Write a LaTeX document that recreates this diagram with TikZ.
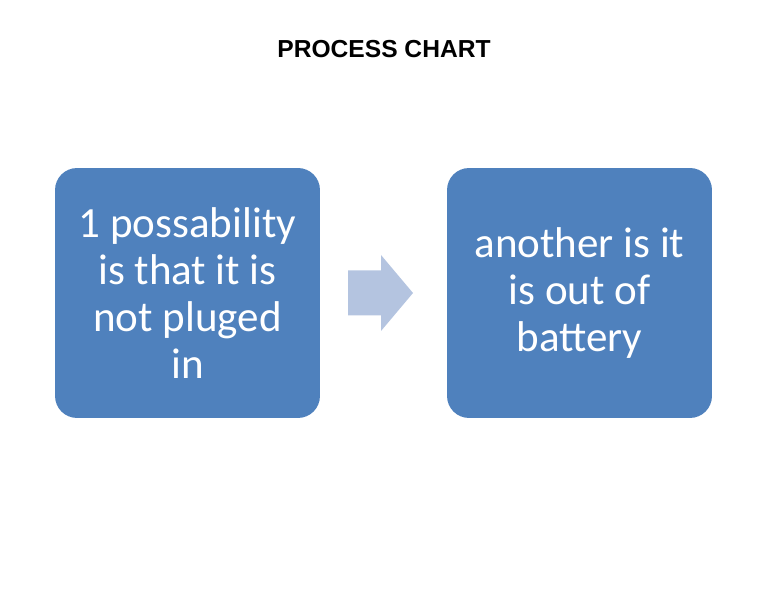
\documentclass[tikz,border=0pt]{standalone}
\usepackage{fontspec}
\setmainfont{Carlito}
\newfontfamily\titlefont{Liberation Sans}
\usetikzlibrary{positioning}
\definecolor{boxblue}{HTML}{4F81BD}
\definecolor{arrowblue}{HTML}{B4C4E0}
\begin{document}
\begin{tikzpicture}[x=0.02cm,y=-0.02cm,
  stepbox/.style={rounded corners=0.44cm,fill=boxblue,text=white,align=center,minimum width=5.3cm,minimum height=5cm,inner sep=0pt,font=\fontsize{24.5}{26.7}\selectfont},
  title/.style={font=\titlefont\bfseries\fontsize{14}{16}\selectfont}]
\useasboundingbox (0,0) rectangle (768,594);
\node[title] (head) at (384,49) {PROCESS CHART};
\node[stepbox] (first) at (187.5,293) {1 possability\\is that it is\\not pluged\\in};
\node[stepbox] (second) at (579.5,293) {another is it\\is out of\\battery};
% block arrow between the boxes
\coordinate (mid) at (380.5,293);
\fill[arrowblue] ([shift={(-32.5,-22.5)}]mid) -- ([shift={(0.5,-22.5)}]mid) -- ([shift={(0.5,-38)}]mid) -- ([shift={(32.5,0)}]mid) -- ([shift={(0.5,38)}]mid) -- ([shift={(0.5,22.5)}]mid) -- ([shift={(-32.5,22.5)}]mid) -- cycle;
\end{tikzpicture}
\end{document}
